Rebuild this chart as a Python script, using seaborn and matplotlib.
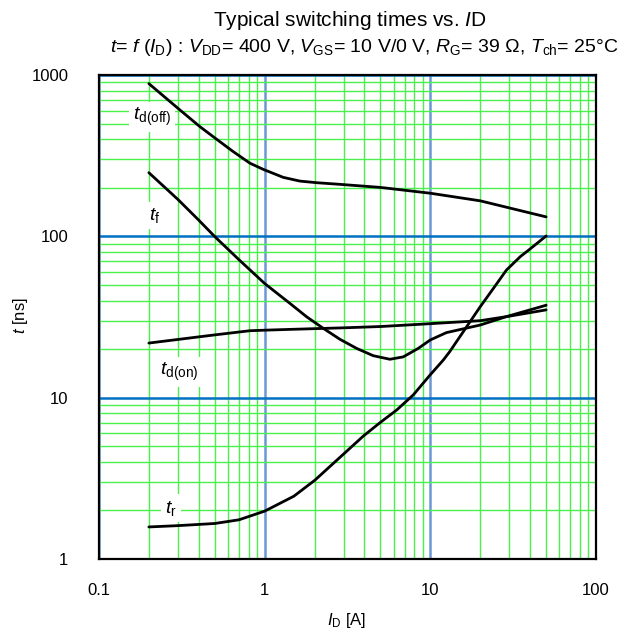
import numpy as np
import pandas as pd
import seaborn as sns
import matplotlib
matplotlib.use("Agg")
import matplotlib.pyplot as plt
from matplotlib.ticker import LogLocator, FixedLocator, NullFormatter

# ---- data ----
td_off_x = [0.2, 0.3, 0.407, 0.49, 0.646, 0.815, 0.981, 1.295, 1.633, 2.06, 2.85, 5.0, 10.0, 20.0, 50.0]
td_off_y = [884, 621, 478, 414, 335, 284, 260, 232, 220, 215, 210, 201, 185, 166, 132]

tf_x = [0.2, 0.3, 0.4, 0.5, 0.7, 1.0, 1.421, 1.793, 2.258, 2.848, 3.591, 4.523, 5.703, 6.863, 8.45, 10.0, 12.5, 20.0, 28.8, 50.0]
tf_y = [248, 169, 126, 99.6, 71.6, 51, 38.4, 31.7, 26.9, 23.0, 20.2, 18.2, 17.3, 17.9, 20.2, 22.8, 25.3, 28.2, 31.8, 37.4]

td_on_x = [0.2, 0.5, 0.815, 1.0, 1.421, 3.0, 5.0, 8.65, 20.0, 30.0, 50.0]
td_on_y = [21.8, 24.5, 26.0, 26.2, 26.5, 27.1, 27.6, 28.5, 30.0, 32.0, 35.0]

tr_x = [0.2, 0.3, 0.5, 0.7, 1.0, 1.5, 2.01, 2.48, 3.94, 4.96, 6.26, 7.89, 9.95, 11.97, 13.1, 20.0, 24.0, 28.8, 35.0, 40.0, 50.0]
tr_y = [1.58, 1.61, 1.66, 1.75, 1.98, 2.45, 3.08, 3.75, 5.78, 6.99, 8.38, 10.4, 13.8, 17.1, 19.3, 36.6, 47.5, 61.8, 75.0, 83.5, 100.5]

x_ticks = [0.1, 1, 10, 100]
x_tick_labels = ["0.1", "1", "10", "100"]
y_ticks = [1, 10, 100, 1000]
y_tick_labels = ["1", "10", "100", "1000"]

curve_labels = [r"$t_{\mathrm{d(off)}}$", r"$t_{\mathrm{f}}$", r"$t_{\mathrm{d(on)}}$", r"$t_{\mathrm{r}}$"]
label_pos_x = [0.16, 0.2, 0.233, 0.25]
label_pos_y = [550, 134, 14.4, 2.07]

series = {
    "td_off": (td_off_x, td_off_y),
    "tf": (tf_x, tf_y),
    "td_on": (td_on_x, td_on_y),
    "tr": (tr_x, tr_y),
}
df = pd.concat(
    [pd.DataFrame({"ID": xs, "t": ys, "series": name}) for name, (xs, ys) in series.items()],
    ignore_index=True,
)

sns.set_style("white")
plt.rcParams["font.family"] = ["Liberation Sans", "DejaVu Sans"]
plt.rcParams["mathtext.fontset"] = "custom"
plt.rcParams["mathtext.rm"] = "Liberation Sans"
plt.rcParams["mathtext.it"] = "Liberation Sans:italic"
plt.rcParams["mathtext.bf"] = "Liberation Sans:bold"
for key in ["text.color", "axes.labelcolor", "xtick.color", "ytick.color"]:
    plt.rcParams[key] = "black"

fig = plt.figure(figsize=(6.28, 6.38), dpi=100)
ax = fig.add_axes([99 / 628, 1 - 559 / 638, (596 - 99) / 628, (559 - 75) / 638])

sns.lineplot(
    data=df, x="ID", y="t", hue="series", units="series", estimator=None,
    palette={k: "black" for k in series}, legend=False, lw=2.0, ax=ax, zorder=4,
)

ax.set_xscale("log")
ax.set_yscale("log")
ax.set_xlim(0.1, 100)
ax.set_ylim(1, 1000)

ax.xaxis.set_major_locator(FixedLocator(x_ticks))
ax.yaxis.set_major_locator(FixedLocator(y_ticks))
ax.set_xticklabels(x_tick_labels)
ax.set_yticklabels(y_tick_labels)
ax.xaxis.set_minor_locator(LogLocator(base=10, subs=np.arange(2, 10)))
ax.yaxis.set_minor_locator(LogLocator(base=10, subs=np.arange(2, 10)))
ax.xaxis.set_minor_formatter(NullFormatter())
ax.yaxis.set_minor_formatter(NullFormatter())
ax.tick_params(which="both", length=0, colors="black")
ax.tick_params(axis="x", which="major", labelsize=12, pad=17)
ax.tick_params(axis="y", which="major", labelsize=12, pad=22)

ax.grid(which="minor", color="#4cf04c", lw=1.0, zorder=0)
ax.xaxis.grid(which="major", color="#6a98d4", lw=1.8, zorder=1)
ax.yaxis.grid(which="major", color="#0070c0", lw=1.8, zorder=1)
ax.set_axisbelow(True)

for sp in ax.spines.values():
    sp.set_color("black")
    sp.set_linewidth(1.6)
    sp.set_zorder(5)

ax.set_xlabel("")
ax.set_ylabel("")

for lab, lx, ly in zip(curve_labels, label_pos_x, label_pos_y):
    ax.text(lx, ly, lab, fontsize=14, ha="left", va="center", zorder=3, color="black",
            bbox=dict(facecolor="white", edgecolor="none", pad=3))

fig.text(350 / 628, 1 - 21 / 638, r"Typical switching times vs. $I$D", fontsize=15,
         ha="center", va="center", color="black")
fig.text(364 / 628, 1 - 47 / 638,
         r"$t$= $f$ ($I_{\mathrm{D}}$) : $V_{\mathrm{DD}}$= 400 V, $V_{\mathrm{GS}}$= 10 V/0 V, "
         r"$R_{\mathrm{G}}$= 39 Ω, $T_{\mathrm{ch}}$= 25°C",
         fontsize=14, ha="center", va="center", color="black")
fig.text(20 / 628, 1 - 316 / 638, r"$t$ [ns]", fontsize=12, rotation=90,
         ha="center", va="center", color="black")
fig.text(347 / 628, 1 - 621 / 638, r"$I_{\mathrm{D}}$ [A]", fontsize=12,
         ha="center", va="center", color="black")

fig.savefig("out.png", dpi=100)
